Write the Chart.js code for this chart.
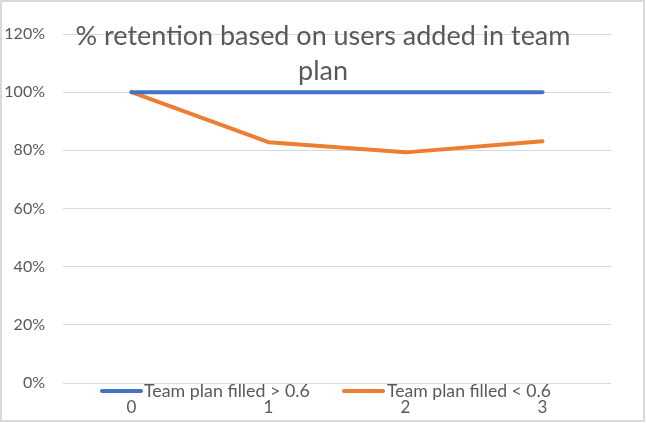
<!DOCTYPE html>
<html><head><meta charset="utf-8">
<script src="https://cdn.jsdelivr.net/npm/chart.js@4"></script>
<style>html,body{margin:0;padding:0;background:#fff}#w{width:646px;height:423px;position:relative}</style>
</head><body><div id="w"><canvas id="c" width="646" height="423"></canvas></div>
<script>
const categories = ['0', '1', '2', '3'];
const seriesNames = ['Team plan filled > 0.6', 'Team plan filled < 0.6'];
const filledAbove = [1.00, 1.00, 1.00, 1.00];
const filledBelow = [1.00, 0.828, 0.793, 0.831];
const titleLines = ['% retention based on users added in team', 'plan'];
const colors = ['#4472C4', '#ED7D31'];
const textColor = '#595959';
const fontFam = 'Lato, "Open Sans", sans-serif';

function fitFont(ctx, text, target, base) {
  ctx.font = base + 'px ' + fontFam;
  const w = ctx.measureText(text).width;
  return base * target / w;
}

const overlay = {
  id: 'overlay',
  afterDraw(chart) {
    const ctx = chart.ctx;
    ctx.save();
    ctx.strokeStyle = '#d9d9d9';
    ctx.lineWidth = 2;
    ctx.strokeRect(1, 1, 643, 420);
    ctx.fillStyle = textColor;
    const ts = fitFont(ctx, titleLines[0], 495, 24);
    ctx.font = ts + 'px ' + fontFam;
    ctx.textAlign = 'center';
    ctx.textBaseline = 'alphabetic';
    ctx.fillText(titleLines[0], 323, 45);
    ctx.fillText(titleLines[1], 323, 80);
    ctx.textAlign = 'left';
    const items = [{x0: 100, x1: 143, tx: 144, tw: 166, t: seriesNames[0], c: colors[0]},
                   {x0: 342, x1: 385, tx: 387, tw: 164, t: seriesNames[1], c: colors[1]}];
    items.forEach(it => {
      ctx.strokeStyle = it.c;
      ctx.lineWidth = 4;
      ctx.lineCap = 'round';
      ctx.beginPath();
      ctx.moveTo(it.x0 + 2, 391);
      ctx.lineTo(it.x1 - 2, 391);
      ctx.stroke();
      const fs = fitFont(ctx, it.t, it.tw, 16);
      ctx.font = fs + 'px ' + fontFam;
      ctx.fillText(it.t, it.tx, 397);
    });
    ctx.restore();
  }
};

new Chart(document.getElementById('c'), {
  type: 'line',
  data: {
    labels: categories,
    datasets: [
      {label: seriesNames[0], data: filledAbove, borderColor: colors[0], backgroundColor: colors[0], borderWidth: 4, pointRadius: 0, borderCapStyle: 'round', borderJoinStyle: 'round', tension: 0},
      {label: seriesNames[1], data: filledBelow, borderColor: colors[1], backgroundColor: colors[1], borderWidth: 4, pointRadius: 0, borderCapStyle: 'round', borderJoinStyle: 'round', tension: 0}
    ]
  },
  options: {
    responsive: false,
    animation: false,
    devicePixelRatio: 1,
    layout: {padding: {top: 34, right: 35, bottom: 0, left: 0}},
    plugins: {legend: {display: false}, title: {display: false}, tooltip: {enabled: false}},
    scales: {
      x: {
        offset: true,
        grid: {display: false, drawTicks: false},
        border: {display: false},
        ticks: {color: textColor, font: {size: 17, family: fontFam}, padding: 14, maxRotation: 0},
        afterFit(s) { s.height = 40; }
      },
      y: {
        min: 0, max: 1.2,
        grid: {color: '#d9d9d9', lineWidth: 1, drawTicks: false},
        border: {display: false},
        ticks: {stepSize: 0.2, color: textColor, font: {size: 16, family: fontFam}, padding: 18,
          callback: v => Math.round(v * 100) + '%'},
        afterFit(s) { s.width = 63; }
      }
    }
  },
  plugins: [overlay]
});
</script></body></html>
